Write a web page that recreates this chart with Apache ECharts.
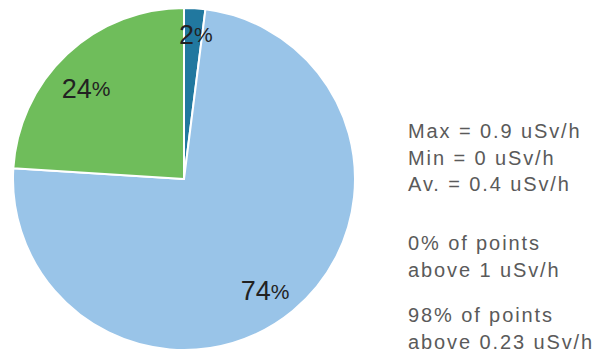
<!DOCTYPE html>
<html>
<head>
<meta charset="utf-8">
<script src="https://cdn.jsdelivr.net/npm/echarts@6/dist/echarts.min.js"></script>
<style>
  html, body { margin: 0; padding: 0; background: #fff; }
  #chart { width: 603px; height: 359px; }
  /* looser tracking for the summary text beside the pie */
  #chart text[style*="20px"] { letter-spacing: 1.9px; }
</style>
</head>
<body>
<div id="chart"></div>
<script>
// Share of dose-rate readings per band
const categories = ['High', 'Medium', 'Low'];
const shares = [2, 74, 24];
const colors = ['#21789f', '#99c4e8', '#6fbd5b'];

// Summary text shown beside the pie
const statsLines = ['Max = 0.9 uSv/h', 'Min = 0 uSv/h', 'Av. = 0.4 uSv/h'];
const aboveOneLines = ['0% of points', 'above 1 uSv/h'];
const aboveLowLines = ['98% of points', 'above 0.23 uSv/h'];

// nudges for the percentage labels, per slice
const labelNudge = [[3, -3], [-9, 3], [-1, 13]];

const pieData = categories.map((name, i) => ({
  name,
  value: shares[i],
  itemStyle: { color: colors[i] }
}));

const labelFont = 'Liberation Sans, Arial, sans-serif';
const labelFormatter = p => `{n|${p.value}}{p|%}`;
const textStyle = { fontFamily: 'Liberation Sans, Arial, sans-serif', fontSize: 20, fill: '#5a5a5a' };

function textBlock(lines, top) {
  return lines.map((t, i) => ({
    type: 'text',
    left: 408,
    top: top + i * 26.6,
    style: Object.assign({ text: t }, textStyle)
  }));
}

const chart = echarts.init(document.getElementById('chart'), null, { renderer: 'svg' });
chart.setOption({
  animation: false,
  series: [
    {
      type: 'pie',
      center: [184, 179],
      radius: [0, 171],
      startAngle: 90,
      clockwise: true,
      silent: true,
      itemStyle: { borderColor: '#ffffff', borderWidth: 2 },
      label: { show: false },
      labelLine: { show: false },
      data: pieData
    },
    {
      // transparent ring that carries the percentage labels near the rim
      type: 'pie',
      center: [184, 179],
      radius: [106, 171],
      startAngle: 90,
      clockwise: true,
      silent: true,
      itemStyle: { color: 'rgba(0,0,0,0)' },
      labelLine: { show: false },
      label: {
        show: true,
        position: 'inside',
        formatter: labelFormatter,
        rich: {
          n: { fontFamily: labelFont, fontSize: 27, color: '#222222' },
          p: { fontFamily: labelFont, fontSize: 21, color: '#222222' }
        }
      },
      labelLayout: p => ({ dx: labelNudge[p.dataIndex][0], dy: labelNudge[p.dataIndex][1] }),
      data: pieData.map(d => ({ name: d.name, value: d.value }))
    }
  ],
  graphic: [
    ...textBlock(statsLines, 121),
    ...textBlock(aboveOneLines, 233),
    ...textBlock(aboveLowLines, 305)
  ]
});
</script>
</body>
</html>
